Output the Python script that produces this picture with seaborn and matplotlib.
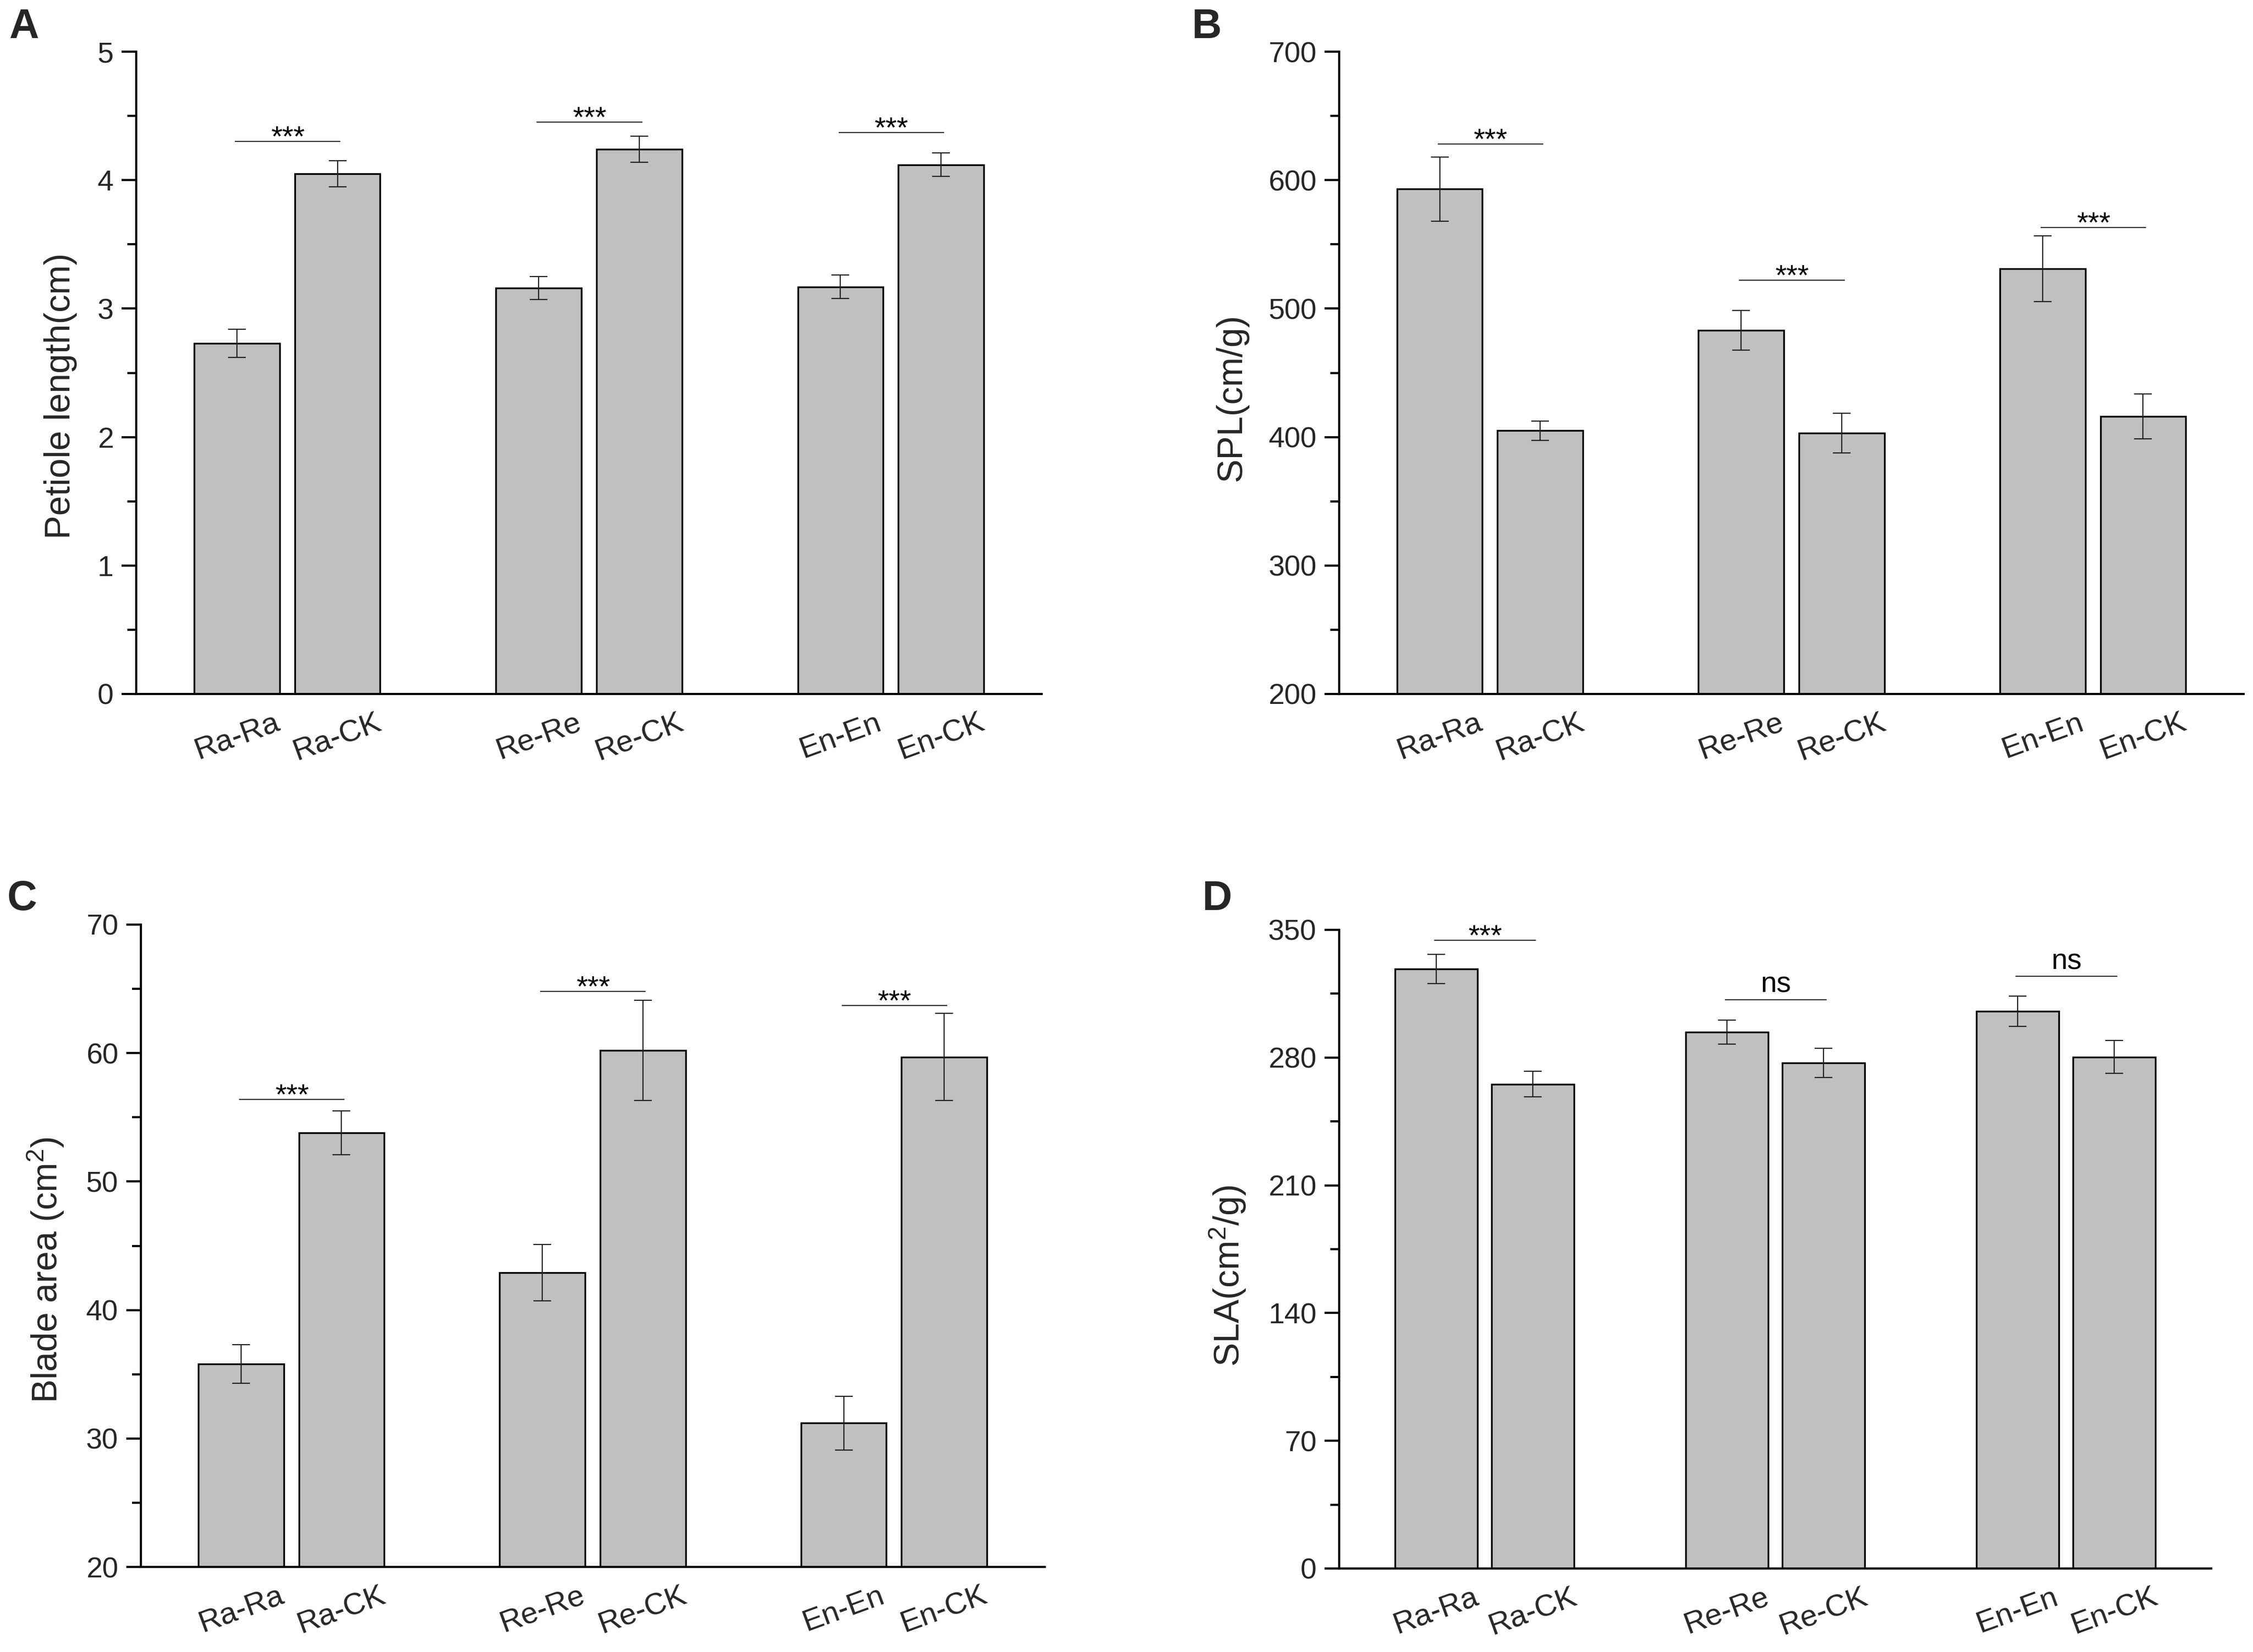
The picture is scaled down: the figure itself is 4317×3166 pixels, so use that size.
import numpy as np
import pandas as pd
import matplotlib
matplotlib.use("Agg")
import matplotlib.pyplot as plt
from matplotlib.ticker import MultipleLocator
import seaborn as sns

# ---------------- data ----------------
labels = ["Ra-Ra", "Ra-CK", "Re-Re", "Re-CK", "En-En", "En-CK"]
groups = ["Ra", "Re", "En"]

petiole_mean = [2.73, 4.05, 3.16, 4.24, 3.17, 4.12]
petiole_err = [0.11, 0.10, 0.09, 0.10, 0.09, 0.09]
petiole_sig = ["***", "***", "***"]
petiole_sig_y = [4.30, 4.45, 4.37]

spl_mean = [593, 405, 483, 403, 531, 416]
spl_err = [25, 7.5, 15.5, 15.5, 25.5, 17.5]
spl_sig = ["***", "***", "***"]
spl_sig_y = [628, 522, 563]

blade_mean = [35.8, 53.8, 42.9, 60.2, 31.2, 59.7]
blade_err = [1.5, 1.7, 2.2, 3.9, 2.1, 3.4]
blade_sig = ["***", "***", "***"]
blade_sig_y = [56.4, 64.8, 63.7]

sla_mean = [328.5, 265.5, 294.0, 277.0, 305.3, 280.3]
sla_err = [8.0, 7.0, 6.5, 8.0, 8.3, 9.0]
sla_sig = ["***", "ns", "ns"]
sla_sig_y = [344.2, 311.8, 324.5]

# ---------------- style ----------------
sns.set_theme(style="ticks")
plt.rcParams["font.family"] = ["Liberation Sans", "DejaVu Sans"]
plt.rcParams["mathtext.default"] = "regular"

BAR_COLOR = "#c0c0c0"
DARK = "#222222"
TICK_FS = 40
XTICK_FS = 42
LABEL_FS = 49
LETTER_FS = 57

W, H = 4317, 3166
fig = plt.figure(figsize=(W / 100, H / 100), dpi=100)

# bar positions: two bars per group, one empty slot between groups
positions = [g * 3 + k for g in range(len(groups)) for k in range(2)]

panels = [
    dict(rect=[261 / W, 1 - 1330 / H, 1735 / W, 1231 / H], mean=petiole_mean, err=petiole_err,
         sig=petiole_sig, sig_y=petiole_sig_y, ylim=(0, 5), major=1, minor=0.5,
         ylabel="Petiole length(cm)", label_y=0.464, letter="A", lpos=(17, 15)),
    dict(rect=[2566 / W, 1 - 1330 / H, 1733 / W, 1231 / H], mean=spl_mean, err=spl_err,
         sig=spl_sig, sig_y=spl_sig_y, ylim=(200, 700), major=100, minor=50,
         ylabel="SPL(cm/g)", label_y=0.462, letter="B", lpos=(2284, 15)),
    dict(rect=[269.5 / W, 1 - 3003 / H, 1732 / W, 1231 / H], mean=blade_mean, err=blade_err,
         sig=blade_sig, sig_y=blade_sig_y, ylim=(20, 70), major=10, minor=5,
         ylabel=r"Blade area (cm$^{2}$)", label_y=0.462, letter="C", lpos=(14, 1686)),
    dict(rect=[2566 / W, 1 - 3006 / H, 1671 / W, 1224 / H], mean=sla_mean, err=sla_err,
         sig=sla_sig, sig_y=sla_sig_y, ylim=(0, 350), major=70, minor=35,
         ylabel=r"SLA(cm$^{2}$/g)", label_y=0.458, letter="D", lpos=(2304, 1686)),
]

for p in panels:
    ax = fig.add_axes(p["rect"])
    df = pd.DataFrame({"label": labels, "pos": positions, "value": p["mean"], "err": p["err"]})
    sns.barplot(data=df, x="pos", y="value", native_scale=True, width=0.85,
                color=BAR_COLOR, saturation=1, edgecolor="black", linewidth=2.4,
                errorbar=None, ax=ax)
    ax.errorbar(df["pos"], df["value"], yerr=df["err"], fmt="none",
                ecolor=DARK, elinewidth=1.6, capsize=12, capthick=1.6, zorder=5)

    # significance brackets
    for g, (txt, yv) in enumerate(zip(p["sig"], p["sig_y"])):
        c1, c2 = positions[2 * g], positions[2 * g + 1]
        ax.plot([c1 - 0.02, c2 + 0.03], [yv, yv], color="#333333", lw=1.6, solid_capstyle="butt")
        off = -6 if txt.startswith("*") else 10
        ax.annotate(txt, xy=((c1 + c2) / 2 + 0.005, yv), xytext=(0, off),
                    textcoords="offset points", ha="center", va="baseline",
                    fontsize=TICK_FS, color="black")

    ax.set_xlim(-1, 8)
    ax.set_ylim(*p["ylim"])
    ax.yaxis.set_major_locator(MultipleLocator(p["major"]))
    ax.yaxis.set_minor_locator(MultipleLocator(p["minor"]))
    ax.set_xticks(positions)
    ax.set_xticklabels(labels, rotation=20, ha="center", fontsize=XTICK_FS)
    ax.tick_params(axis="x", length=0, pad=20)
    ax.tick_params(axis="y", which="major", length=20, width=3, pad=11,
                   labelsize=TICK_FS, direction="out", color="black")
    ax.tick_params(axis="y", which="minor", length=12, width=3, direction="out", color="black")
    ax.set_xlabel("")
    ax.set_ylabel(p["ylabel"], fontsize=LABEL_FS, labelpad=28)
    ax.yaxis.label.set_y(p["label_y"])
    sns.despine(ax=ax)
    for s in ("left", "bottom"):
        ax.spines[s].set_linewidth(3)
        ax.spines[s].set_color("black")
    ax.set_facecolor("white")

    lx, ly = p["lpos"]
    fig.text(lx / W, 1 - ly / H, p["letter"], fontsize=LETTER_FS, fontweight="bold",
             ha="left", va="top")

fig.savefig("out.png", dpi=100, facecolor="white")
